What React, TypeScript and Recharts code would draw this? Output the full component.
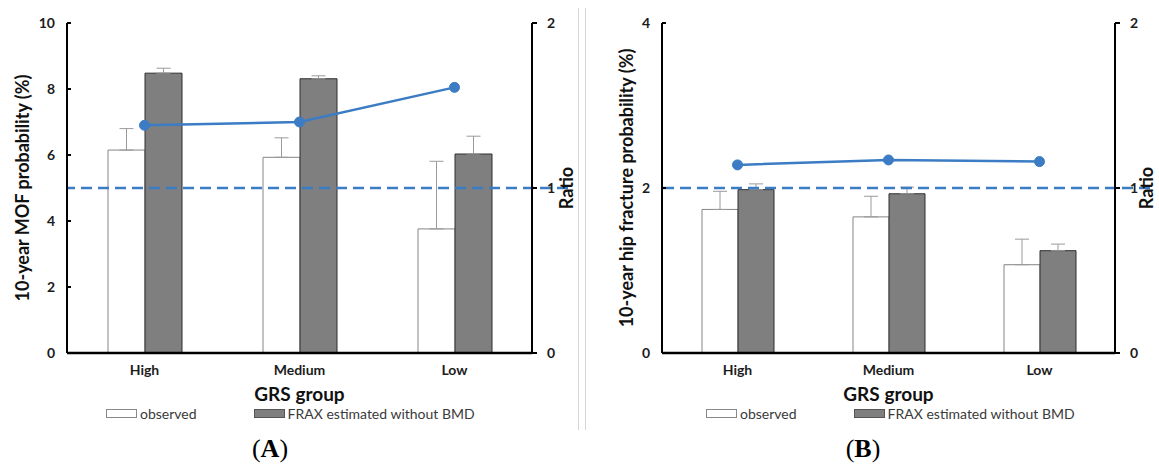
import React from 'react';
import { ComposedChart, Bar, Line, XAxis, YAxis, ErrorBar, ReferenceLine } from 'recharts';

const categories = ['High', 'Medium', 'Low'];
const seriesNames = ['observed', 'FRAX estimated without BMD'];

// panel A: major osteoporotic fracture
const mofObserved = [6.15, 5.93, 3.76];
const mofObservedErr = [0.65, 0.59, 2.05];
const mofFrax = [8.48, 8.31, 6.03];
const mofFraxErr = [0.15, 0.09, 0.54];
const mofRatio = [1.38, 1.4, 1.61];

// panel B: hip fracture
const hipObserved = [1.74, 1.65, 1.07];
const hipObservedErr = [0.22, 0.25, 0.31];
const hipFrax = [1.98, 1.93, 1.24];
const hipFraxErr = [0.07, 0.08, 0.08];
const hipRatio = [1.14, 1.17, 1.16];

const mofTicks = [0, 2, 4, 6, 8, 10];
const hipTicks = [0, 2, 4];
const ratioTicks = [0, 1, 2];
const ratioReference = 1;

const BLUE = '#3b7cc4';
const FONT = 'Lato, "Open Sans", sans-serif';

const buildData = (obs: number[], obsErr: number[], frax: number[], fraxErr: number[], ratio: number[]) =>
  categories.map((group, i) => ({
    group,
    observed: obs[i],
    observedErr: [0, obsErr[i]],
    frax: frax[i],
    fraxErr: [0, fraxErr[i]],
    ratio: ratio[i],
  }));

const mofData = buildData(mofObserved, mofObservedErr, mofFrax, mofFraxErr, mofRatio);
const hipData = buildData(hipObserved, hipObservedErr, hipFrax, hipFraxErr, hipRatio);

const tickStyle = { fill: '#1c1c1c', fontSize: 14, fontWeight: 700, fontFamily: FONT };
const titleStyle = { fill: '#111', fontSize: 18, fontWeight: 700, fontFamily: FONT };

const DashedRatio = ({ inset }: { inset: number }) => (props: any) => {
  const { x1, x2, y1 } = props;
  return <line x1={x1 + inset} x2={x2} y1={y1} y2={y1} stroke={BLUE} strokeWidth={2.5} strokeDasharray="11 6" />;
};

interface PanelProps {
  data: ReturnType<typeof buildData>;
  width: number;
  leftTicks: number[];
  yLabel: string;
  marginLeft: number;
  rightWidth: number;
  barSize: number;
  yLabelDx: number;
  ratioDx: number;
  dashInset: number;
}

const Panel: React.FC<PanelProps> = ({ data, width, leftTicks, yLabel, marginLeft, rightWidth, barSize, yLabelDx, ratioDx, dashInset }) => (
  <ComposedChart
    width={width}
    height={467}
    data={data}
    margin={{ top: 23, right: 0, left: marginLeft, bottom: 62 }}
    barGap={0}
  >
    <XAxis
      dataKey="group"
      axisLine={{ stroke: '#000', strokeWidth: 2.5 }}
      tickLine={false}
      tickSize={0}
      tickMargin={12}
      tick={tickStyle}
      height={52}
      label={{ value: 'GRS group', position: 'insideBottom', offset: 4, style: { ...titleStyle, fontSize: 19 } }}
    />
    <YAxis
      yAxisId="left"
      domain={[leftTicks[0], leftTicks[leftTicks.length - 1]]}
      ticks={leftTicks}
      width={45}
      axisLine={{ stroke: '#000', strokeWidth: 2 }}
      tickLine={{ stroke: '#000', strokeWidth: 2, transform: 'translate(4 0)' }}
      tickSize={4}
      tickMargin={8}
      tick={tickStyle}
      label={{ value: yLabel, angle: -90, position: 'center', dx: yLabelDx, style: titleStyle }}
    />
    <YAxis
      yAxisId="right"
      orientation="right"
      domain={[0, 2]}
      ticks={ratioTicks}
      width={rightWidth}
      axisLine={{ stroke: '#000', strokeWidth: 2 }}
      tickLine={{ stroke: '#000', strokeWidth: 2 }}
      tickSize={5}
      tickMargin={10}
      tick={tickStyle}
      label={{ value: 'Ratio', angle: -90, position: 'center', dx: ratioDx, style: titleStyle }}
    />
    <Bar yAxisId="left" dataKey="observed" name={seriesNames[0]} fill="#fff" stroke="#858585" strokeWidth={1} barSize={barSize} isAnimationActive={false}>
      <ErrorBar dataKey="observedErr" width={7} stroke="#9a9a9a" strokeWidth={1} direction="y" />
    </Bar>
    <Bar yAxisId="left" dataKey="frax" name={seriesNames[1]} fill="#7f7f7f" stroke="#2e2e2e" strokeWidth={1} barSize={barSize} isAnimationActive={false}>
      <ErrorBar dataKey="fraxErr" width={7} stroke="#9a9a9a" strokeWidth={1} direction="y" />
    </Bar>
    <ReferenceLine yAxisId="right" y={ratioReference} shape={DashedRatio({ inset: dashInset })} />
    <Line
      yAxisId="right"
      dataKey="ratio"
      stroke={BLUE}
      strokeWidth={2.5}
      dot={{ r: 5, fill: BLUE, stroke: BLUE, strokeWidth: 1 }}
      isAnimationActive={false}
    />
  </ComposedChart>
);

const LegendRow = ({ left }: { left: number }) => (
  <div style={{ position: 'absolute', left, top: 405, display: 'flex', alignItems: 'center', fontFamily: FONT, fontSize: 14, color: '#3a3a3a' }}>
    {seriesNames.map((name, i) => (
      <div key={name} style={{ display: 'flex', alignItems: 'center', marginRight: i === 0 ? 57 : 0 }}>
        <span
          style={{
            display: 'inline-block',
            width: 29,
            height: 7,
            background: i === 0 ? '#fff' : '#7f7f7f',
            border: `1px solid ${i === 0 ? '#888' : '#555'}`,
            marginRight: 3,
          }}
        />
        <span>{name}</span>
      </div>
    ))}
  </div>
);

const Caption = ({ letter, center }: { letter: string; center: number }) => (
  <div
    style={{
      position: 'absolute',
      left: center - 40,
      width: 80,
      top: 433,
      textAlign: 'center',
      fontFamily: '"Liberation Serif", serif',
      fontSize: 26,
      lineHeight: '32px',
      color: '#000',
    }}
  >
    (<b>{letter}</b>)
  </div>
);

export default function App() {
  return (
    <div style={{ position: 'absolute', left: 0, top: 0, width: 1159, height: 467, background: '#fff', overflow: 'hidden' }}>
      <div style={{ position: 'absolute', left: 0, top: 0 }}>
        <Panel
          data={mofData}
          width={580}
          leftTicks={mofTicks}
          yLabel="10-year MOF probability (%)"
          marginLeft={22}
          rightWidth={48}
          barSize={37}
          yLabelDx={-22}
          ratioDx={11}
          dashInset={36}
        />
      </div>
      <div style={{ position: 'absolute', left: 580, top: 0 }}>
        <Panel
          data={hipData}
          width={579}
          leftTicks={hipTicks}
          yLabel="10-year hip fracture probability (%)"
          marginLeft={37}
          rightWidth={44}
          barSize={36}
          yLabelDx={-13}
          ratioDx={10}
          dashInset={35}
        />
      </div>
      <div style={{ position: 'absolute', left: 578, top: 8, width: 1, height: 422, background: '#d6d6d6' }} />
      <div style={{ position: 'absolute', left: 585, top: 8, width: 1, height: 422, background: '#d6d6d6' }} />
      <LegendRow left={106} />
      <LegendRow left={706} />
      <Caption letter="A" center={270} />
      <Caption letter="B" center={863} />
    </div>
  );
}
